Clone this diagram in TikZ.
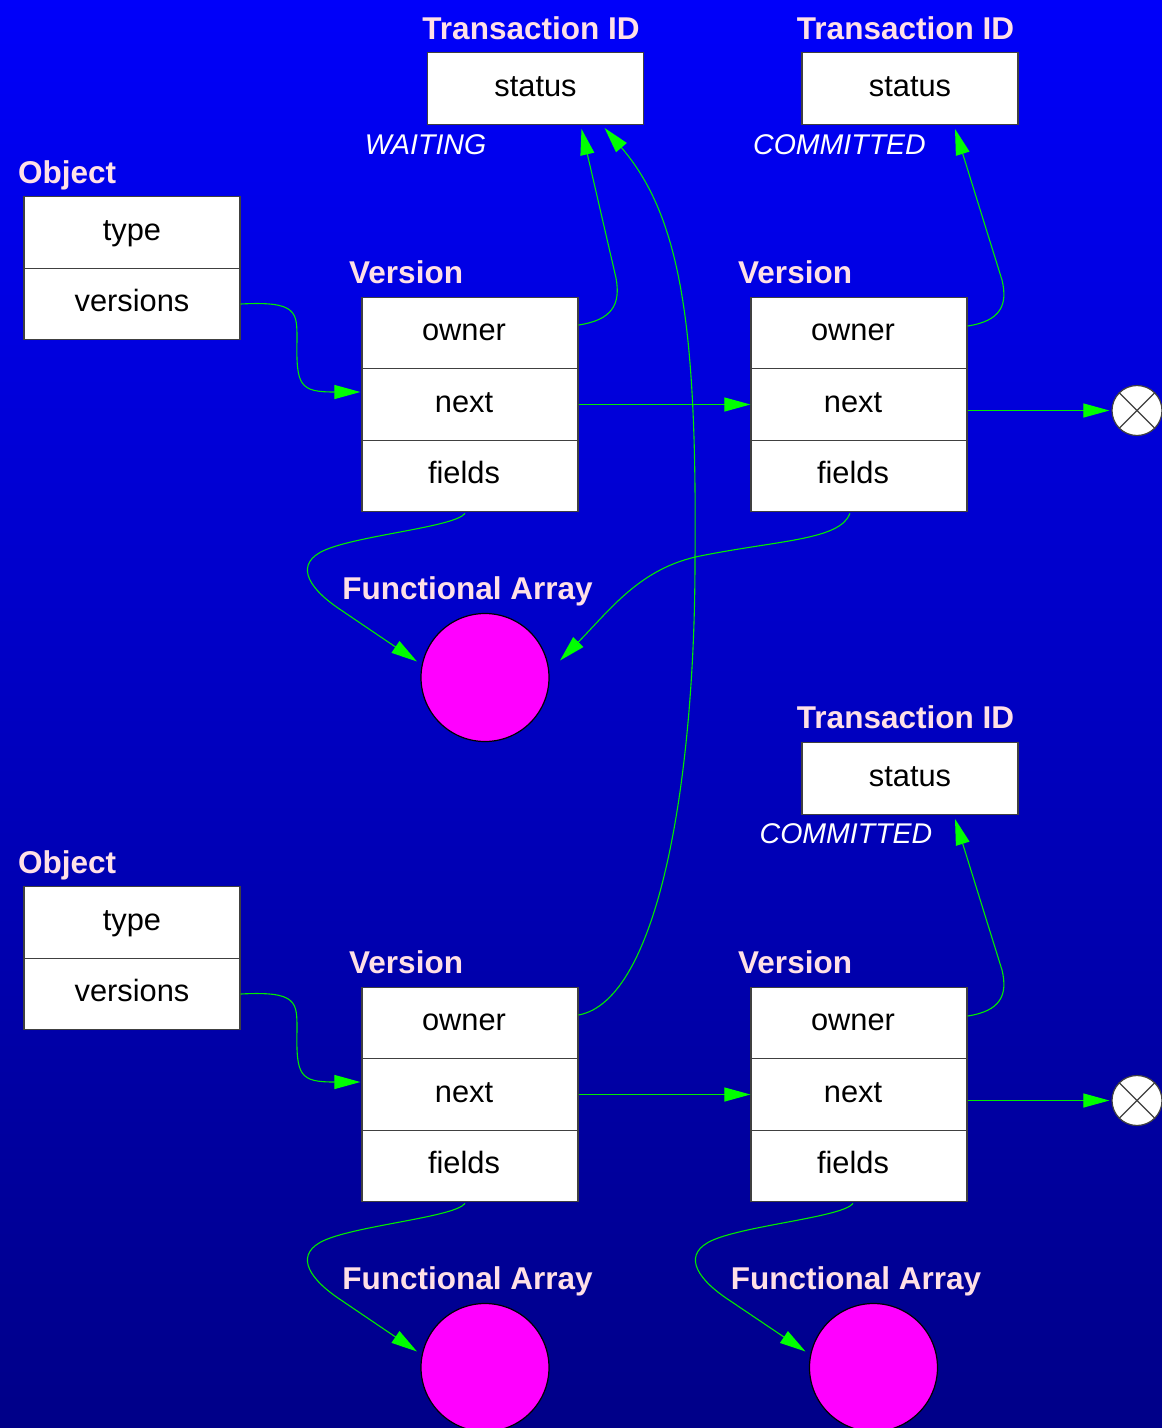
\documentclass[tikz,border=0pt]{standalone}
\usepackage{fontspec}
\setmainfont{Liberation Sans}
\usetikzlibrary{arrows.meta,calc}

\definecolor{bgtop}{RGB}{0,0,250}
\definecolor{bgbottom}{RGB}{0,0,136}
\definecolor{caption}{RGB}{255,224,230}
\definecolor{wire}{RGB}{0,235,0}
\definecolor{tipgreen}{RGB}{0,255,0}
\definecolor{edge}{RGB}{64,64,64}
\definecolor{arrayfill}{RGB}{255,0,255}

\tikzset{
  cell/.style={draw=edge, line width=1.2pt, fill=white, minimum width=216,
    minimum height=71.6, inner sep=0pt, text height=22pt, text depth=6.5pt,
    font=\fontsize{30.8}{36}\selectfont},
  vcell/.style={cell, execute at begin node={\hspace*{-12pt}}},
  caplabel/.style={anchor=base, inner sep=0pt, text=caption,
    font=\fontsize{31.5}{36}\selectfont\bfseries},
  caplabelw/.style={caplabel, anchor=base west},
  statelabel/.style={anchor=base, inner sep=0pt, text=white,
    font=\fontsize{28.5}{34}\selectfont\itshape},
  farray/.style={circle, draw=black, line width=1.2pt, fill=arrayfill,
    minimum size=128, inner sep=0pt},
  nilnode/.style={circle, draw=edge, line width=1.2pt, fill=white,
    minimum size=50, inner sep=0pt},
  link/.style={draw=wire, line width=1.1pt,
    -{Triangle[length=26pt,width=14pt,color=tipgreen]}}
}

\begin{document}
\begin{tikzpicture}[x=1pt,y=-1pt]
\useasboundingbox (0,0) rectangle (1162,1428);
\shade[top color=bgtop,bottom color=bgbottom] (0,0) rectangle (1162,1428);
\clip (0,0) rectangle (1162,1428);

% transaction records
\node[caplabel] (t1lab) at (531,39) {Transaction ID};
\node[caplabel] (t2lab) at (905.5,39) {Transaction ID};
\node[caplabel] (t3lab) at (905.5,728) {Transaction ID};
\node[cell] (t1) at (535.5,88.5) {status};
\node[cell] (t2) at (910,88.5) {status};
\node[cell] (t3) at (910,778.5) {status};
\node[statelabel] (t1state) at (425.5,154) {WAITING};
\node[statelabel] (t2state) at (839.5,154) {COMMITTED};
\node[statelabel] (t3state) at (846,843) {COMMITTED};

% objects
\node[caplabelw] (o1lab) at (18,183) {Object};
\node[cell] (o1type) at (132,232.5) {type};
\node[cell] (o1versions) at (132,304) {versions};
\node[caplabelw] (o2lab) at (18,873) {Object};
\node[cell] (o2type) at (132,922.5) {type};
\node[cell] (o2versions) at (132,994) {versions};

% versions, upper chain
\node[caplabelw] (v1lab) at (349,283) {Version};
\node[vcell] (v1owner) at (470,333) {owner};
\node[vcell] (v1next) at (470,404.5) {next};
\node[vcell] (v1fields) at (470,476) {fields};
\node[caplabelw] (v2lab) at (738,283) {Version};
\node[vcell] (v2owner) at (859,333) {owner};
\node[vcell] (v2next) at (859,404.5) {next};
\node[vcell] (v2fields) at (859,476) {fields};

% versions, lower chain
\node[caplabelw] (v3lab) at (349,973) {Version};
\node[vcell] (v3owner) at (470,1023) {owner};
\node[vcell] (v3next) at (470,1094.5) {next};
\node[vcell] (v3fields) at (470,1166) {fields};
\node[caplabelw] (v4lab) at (738,973) {Version};
\node[vcell] (v4owner) at (859,1023) {owner};
\node[vcell] (v4next) at (859,1094.5) {next};
\node[vcell] (v4fields) at (859,1166) {fields};

% functional arrays
\node[caplabel] (fa1lab) at (467.5,599) {Functional Array};
\node[farray] (fa1) at (485,677.5) {};
\node[caplabel] (fa3lab) at (467.5,1289) {Functional Array};
\node[farray] (fa3) at (485,1367.5) {};
\node[caplabel] (fa4lab) at (856,1289) {Functional Array};
\node[farray] (fa4) at (873.5,1367.5) {};

% end-of-chain markers
\node[nilnode] (n1) at (1137,410.5) {};
\draw[edge, line width=1.2pt] (n1.north west) -- (n1.south east) (n1.north east) -- (n1.south west);
\node[nilnode] (n2) at (1137,1100.5) {};
\draw[edge, line width=1.2pt] (n2.north west) -- (n2.south east) (n2.north east) -- (n2.south west);

% object -> first version
\draw[link] (o1versions.east) .. controls +(57,-3) and (297,312) .. (297,340)
  .. controls (296,386) and (300,392) .. ($(v1next.west)+(-1,-12.5)$);
\draw[link] (o2versions.east) .. controls +(57,-3) and (297,1002) .. (297,1030)
  .. controls (296,1076) and (300,1082) .. ($(v3next.west)+(-1,-12.5)$);

% owner -> transaction status
\draw[link] ($(v1owner.east)+(0,-8)$) .. controls +(33,-5) and (621,305) .. (616,278)
  -- ($(t1.south)+(46,4)$);
\draw[link] ($(v3owner.east)+(0,-8)$) .. controls +(80,-15) and (695,780) .. (695,560)
  .. controls (697,330) and (682,218) .. ($(t1.south)+(69,3)$);
\draw[link] ($(v2owner.east)+(0,-7)$) .. controls +(33,-5) and (1008,305) .. (1002,280)
  -- ($(t2.south)+(45,4)$);
\draw[link] ($(v4owner.east)+(0,-7)$) .. controls +(33,-5) and (1008,995) .. (1002,970)
  -- ($(t3.south)+(45,4)$);

% next pointers
\draw[link] (v1next.east) -- (v2next.west);
\draw[link, shorten >=2pt] (v2next.east |- n1.west) -- (n1.west);
\draw[link] (v3next.east) -- (v4next.west);
\draw[link, shorten >=2pt] (v4next.east |- n2.west) -- (n2.west);

% fields -> functional arrays
\draw[link] ($(v1fields.south)+(-5,1)$) .. controls (455,527) and (360,535) .. (325,550)
  .. controls (295,563) and (306,586) .. (338,608) -- ($(fa1.center)+(-68,-16)$);
\draw[link] ($(v2fields.south)+(-9,1)$) .. controls (840,540) and (780,540) .. (700,556)
  .. controls (640,568) and (610,610) .. ($(fa1.center)+(75,-17)$);
\draw[link] ($(v3fields.south)+(-5,1)$) .. controls (455,1217) and (360,1225) .. (325,1240)
  .. controls (295,1253) and (306,1276) .. (338,1298) -- ($(fa3.center)+(-68,-16)$);
\draw[link] ($(v4fields.south)+(-6,1)$) .. controls (843,1217) and (748,1225) .. (713,1240)
  .. controls (683,1253) and (694,1276) .. (726,1298) -- ($(fa4.center)+(-68,-16)$);
\end{tikzpicture}
\end{document}
